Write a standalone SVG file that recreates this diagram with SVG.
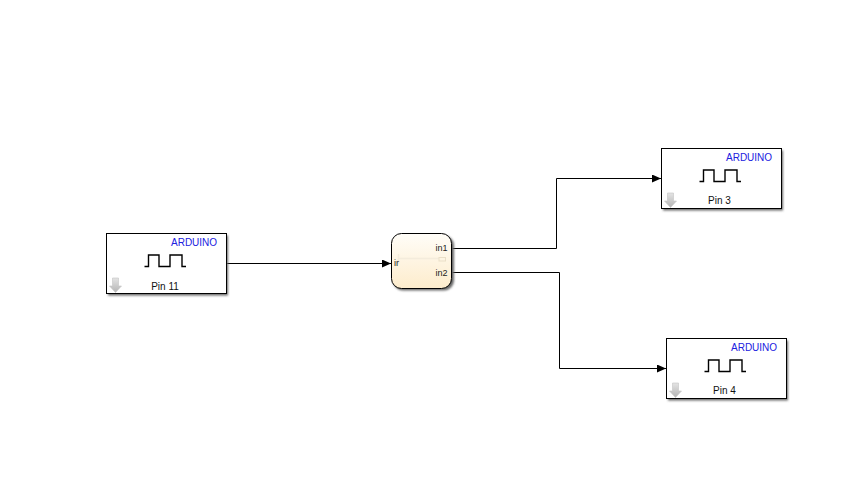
<svg xmlns="http://www.w3.org/2000/svg" width="841" height="492" viewBox="0 0 841 492">
<defs>
<linearGradient id="chart" x1="0" y1="0" x2="0" y2="1"><stop offset="0" stop-color="#fffdf8"/><stop offset="1" stop-color="#fdeccc"/></linearGradient>
<linearGradient id="arrowFill" x1="0" y1="0" x2="0" y2="1"><stop offset="0" stop-color="#e4e4e4"/><stop offset="1" stop-color="#b4b4b4"/></linearGradient>
<filter id="soft" x="-10%" y="-10%" width="125%" height="130%"><feGaussianBlur stdDeviation="1.300"/></filter>
<marker id="head" markerWidth="10" markerHeight="8" refX="9" refY="4" orient="auto" markerUnits="userSpaceOnUse"><path d="M0 0L9 4L0 8z" fill="#000"/></marker>
<g id="block">
<rect x="2" y="2.500" width="120" height="60" fill="#666" filter="url(#soft)"/>
<rect x="0.5" y="0.5" width="120" height="60" fill="#fff" stroke="#000"/>
<text class="ard" x="65" y="13">ARDUINO</text>
<path d="M38.500 33.500H42.500V22H53V33.500H64V22H76V33.500H80" fill="none" stroke="#000" stroke-width="1.400"/>
<path d="M6.500 45H12.500V53H15.500L9.500 59.500L3.500 53H6.500z" fill="url(#arrowFill)" stroke="#c4c4c4" stroke-width="0.6"/>
</g>
<style>
text{font-family:"Liberation Sans",Arial,sans-serif}
.ard{font-size:10px;fill:#2020e0}
.pin{font-size:10px;fill:#111;text-anchor:middle}
.port{font-size:9px;fill:#222}
.wire{fill:none;stroke:#000;stroke-width:1}
</style>
</defs>
<rect width="841" height="492" fill="#fff"/>
<g id="connectors">
<path class="wire" marker-end="url(#head)" d="M227 263.500H391"/>
<path class="wire" marker-end="url(#head)" d="M452 248.500H556.500V178.500H661"/>
<path class="wire" marker-end="url(#head)" d="M452 272.500H559.500V368.500H666"/>
</g>
<g id="pin11"><use href="#block" x="106" y="233"/><text class="pin" x="165" y="290">Pin 11</text></g>
<g id="pin3"><use href="#block" x="661" y="148"/><text class="pin" x="719.500" y="204">Pin 3</text></g>
<g id="pin4"><use href="#block" x="666" y="338"/><text class="pin" x="724.500" y="394">Pin 4</text></g>
<g id="chart">
<rect x="393" y="235.500" width="61" height="55" rx="10" fill="#666" filter="url(#soft)"/>
<rect x="391.500" y="233.500" width="60" height="55" rx="10" fill="url(#chart)" stroke="#000"/>
<path d="M398 258.500H439M398.500 254V264" fill="none" stroke="#f4ecdc" stroke-width="1.500"/>
<rect x="439" y="257.500" width="6.500" height="3.500" fill="none" stroke="#eadfc8"/>
<text class="port" x="394" y="265.700">ir</text>
<text class="port" x="435.500" y="250.700">in1</text>
<text class="port" x="435.500" y="275.700">in2</text>
</g>
</svg>
